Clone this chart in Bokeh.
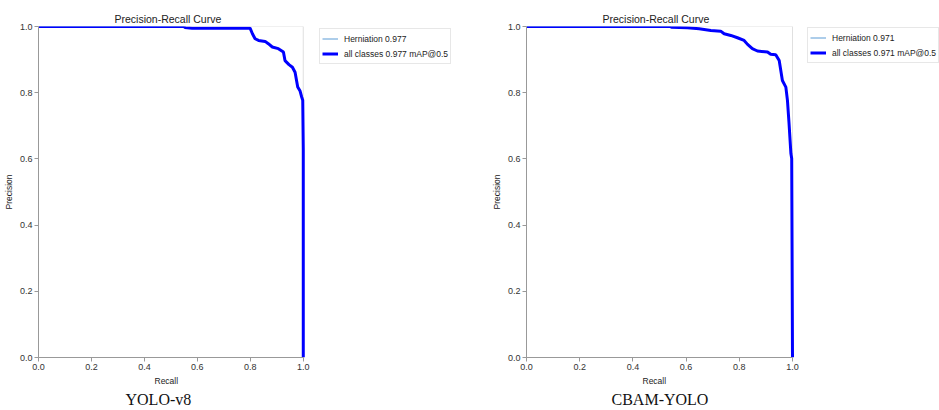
from bokeh.plotting import figure
from bokeh.models import (Range1d, FixedTicker, Legend, LegendItem, Title,
                          NumeralTickFormatter, BoxAnnotation)
from bokeh.layouts import row
from bokeh.embed import file_html
from bokeh.resources import INLINE

# ---- data ----
yolo_recall = [0.0, 0.549, 0.553, 0.58, 0.799, 0.808, 0.818, 0.831, 0.856, 0.868, 0.883, 0.906, 0.925,
               0.931, 0.946, 0.959, 0.969, 0.979, 0.988, 0.994, 0.998, 1.0, 1.0]
yolo_precision = [1.0, 1.0, 0.997, 0.995, 0.995, 0.978, 0.963, 0.958, 0.955, 0.948, 0.938, 0.933, 0.923,
                  0.897, 0.885, 0.877, 0.862, 0.817, 0.805, 0.787, 0.777, 0.626, 0.0]

cbam_recall = [0.0, 0.540, 0.545, 0.605, 0.649, 0.693, 0.730, 0.743, 0.768, 0.793, 0.818, 0.831, 0.849,
               0.868, 0.906, 0.918, 0.937, 0.950, 0.962, 0.975, 0.981, 0.987, 0.994, 0.997, 1.0]
cbam_precision = [1.0, 1.0, 0.998, 0.996, 0.993, 0.988, 0.986, 0.978, 0.973, 0.966, 0.958, 0.946, 0.933,
                  0.926, 0.923, 0.916, 0.915, 0.897, 0.837, 0.817, 0.777, 0.707, 0.616, 0.601, 0.0]

class_name = "Herniation"
yolo_map = 0.977
cbam_map = 0.971
captions = ["YOLO-v8", "CBAM-YOLO"]
chart_title = "Precision-Recall Curve"
x_label = "Recall"
y_label = "Precision"
tick_values = [0.0, 0.2, 0.4, 0.6, 0.8, 1.0]

SANS = "Liberation Sans"
SERIF = "Liberation Serif"
UNIT_X = 266.0   # px per unit recall


def make_panel(recall, precision, mapv, caption, width, left, bottom, offsets):
    title_off, xlab_off, cap_off = offsets
    frame_w = width - left
    frame_h = 410 - 26 - bottom
    p = figure(width=width, height=410, output_backend="svg", toolbar_location=None,
               x_range=Range1d(0, frame_w / UNIT_X), y_range=Range1d(0, 1),
               min_border_left=left, min_border_right=0, min_border_top=26,
               min_border_bottom=bottom)
    p.title.text = chart_title
    p.title.align = "left"
    p.title.offset = title_off
    p.title.text_font = SANS
    p.title.text_font_size = "10.5px"
    p.title.text_font_style = "normal"
    p.title.text_color = "#222222"
    p.title.standoff = 3
    p.background_fill_color = "white"
    p.border_fill_color = "white"
    p.outline_line_color = None
    p.xgrid.visible = False
    p.ygrid.visible = False
    for ax in (p.xaxis[0], p.yaxis[0]):
        ax.bounds = (0, 1)
        ax.ticker = FixedTicker(ticks=tick_values)
        ax.formatter = NumeralTickFormatter(format="0.0")
        ax.minor_tick_line_color = None
        ax.major_tick_in = 0
        ax.major_tick_out = 4
        ax.major_tick_line_color = "#999999"
        ax.axis_line_color = "#999999"
        ax.major_label_text_font = SANS
        ax.major_label_text_font_size = "9px"
        ax.major_label_text_color = "#333333"
        ax.major_label_standoff = 2
        ax.axis_label_text_font = SANS
        ax.axis_label_text_font_size = "8.5px"
        ax.axis_label_text_font_style = "normal"
        ax.axis_label_text_color = "#222222"
    p.yaxis.axis_label = y_label
    p.yaxis.axis_label_standoff = 3

    # axes box (spines)
    p.add_layout(BoxAnnotation(left=0, right=1, bottom=0, top=1, fill_alpha=0,
                               line_color="#999999", line_width=1, level="underlay"))

    r1 = p.line(recall, precision, line_color="#5b9bd5", line_width=1)
    r2 = p.line(recall, precision, line_color="#0000ff", line_width=3)

    legend = Legend(items=[
        LegendItem(label=f"{class_name} {mapv:.3f}", renderers=[r1]),
        LegendItem(label=f"all classes {mapv:.3f} mAP@0.5", renderers=[r2]),
    ], location=(281, frame_h - 38))
    legend.label_text_font = SANS
    legend.label_text_font_size = "8.5px"
    legend.label_text_color = "#222222"
    legend.glyph_width = 16
    legend.glyph_height = 15
    legend.label_height = 15
    legend.label_standoff = 6
    legend.spacing = 0
    legend.padding = 2
    legend.margin = 0
    legend.border_line_color = "#d0d0d0"
    legend.border_line_width = 1
    legend.background_fill_alpha = 1
    p.add_layout(legend, "center")

    # x-axis label centred under the axes box
    p.add_layout(Title(text=x_label, align="left", offset=xlab_off, text_font=SANS,
                       text_font_size="8.5px", text_font_style="normal",
                       text_color="#222222", standoff=2), "below")
    # panel caption
    p.add_layout(Title(text=caption, align="left", offset=cap_off, text_font=SERIF,
                       text_font_size="16px", text_font_style="normal",
                       text_color="#111111", standoff=4), "below")
    return p


p1 = make_panel(yolo_recall, yolo_precision, yolo_map, captions[0], 470, 36, 53, (76, 116, 87))
p2 = make_panel(cbam_recall, cbam_precision, cbam_map, captions[1], 469, 56, 52, (76, 116, 85))

layout = row(p1, p2)
open("out.html", "w").write(file_html(layout, INLINE))
